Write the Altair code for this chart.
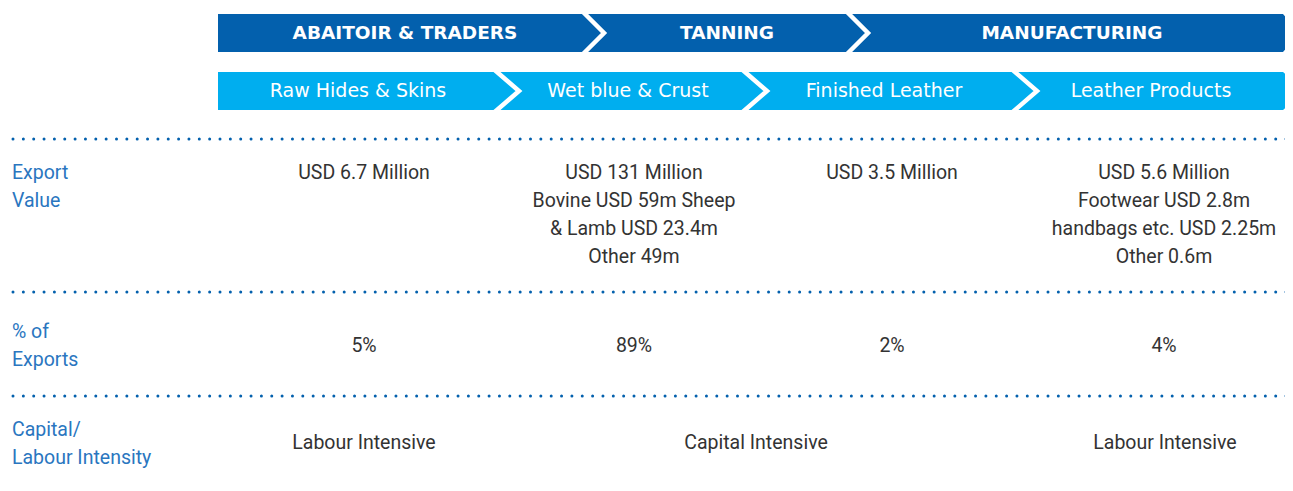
import altair as alt
import pandas as pd

# ---------------- data ----------------
stages = ["ABAITOIR & TRADERS", "TANNING", "MANUFACTURING"]
products = ["Raw Hides & Skins", "Wet blue & Crust", "Finished Leather", "Leather Products"]
row_labels = [["Export", "Value"], ["% of", "Exports"], ["Capital/", "Labour Intensity"]]
export_values = [
    ["USD 6.7 Million"],
    ["USD 131 Million", "Bovine USD 59m Sheep", "& Lamb USD 23.4m", "Other 49m"],
    ["USD 3.5 Million"],
    ["USD 5.6 Million", "Footwear USD 2.8m", "handbags etc. USD 2.25m", "Other 0.6m"],
]
export_shares = ["5%", "89%", "2%", "4%"]
intensity = ["Labour Intensive", "Capital Intensive", "Labour Intensive"]

# ---------------- layout (pixels of the picture) ----------------
W, H = 1277, 475
bar_left, bar_right = 218, 1290
stage_band = (14, 52)
product_band = (72, 110)
stage_breaks = [585, 849]
product_breaks = [497, 745, 1015]
stage_depth, product_depth = 19, 22
stage_text_x = [405, 727, 1072]
product_text_x = [358, 628, 884, 1151]
col_x = [364, 634, 892, 1164]
intensity_x = [364, 756, 1165]
divider_y = [139, 292, 396]
dots_from, dots_to = 13, 1290
label_x = 12
line_h = 28
export_y0, share_y, intensity_y = 173, 346, 443
label_y0 = [173, 332, 430]

DARK = "#0360AD"
LIGHT = "#00AEEF"
LABEL = "#2A76BF"
TEXT = "#333333"
COND = "Roboto, Liberation Sans, sans-serif"
GEO = "DejaVu Sans, sans-serif"

X = alt.Scale(domain=[8, 8 + W], nice=False, zero=False)
Y = alt.Scale(domain=[8, 8 + H], nice=False, zero=False, reverse=True)

def xe(f="x"):
    return alt.X(f"{f}:Q", scale=X, axis=None)

def ye(f="y"):
    return alt.Y(f"{f}:Q", scale=Y, axis=None)

# bands
bands = pd.DataFrame([
    {"x": bar_left, "x2": bar_right + 20, "y": stage_band[0], "y2": stage_band[1], "c": DARK},
    {"x": bar_left, "x2": bar_right + 20, "y": product_band[0], "y2": product_band[1], "c": LIGHT},
])
band_layer = alt.Chart(bands).mark_rect().encode(
    x=xe(), x2="x2:Q", y=ye(), y2="y2:Q", color=alt.Color("c:N", scale=None))

# chevron separators (white strokes)
rows = []
cid = 0
for breaks, (t, b), d in [(stage_breaks, stage_band, stage_depth), (product_breaks, product_band, product_depth)]:
    half = (b - t) / 2
    ext = 4
    for x0 in breaks:
        dx = d * ext / half
        rows += [
            {"id": cid, "o": 0, "x": x0 - dx, "y": t - ext},
            {"id": cid, "o": 1, "x": x0 + d, "y": t + half},
            {"id": cid, "o": 2, "x": x0 - dx, "y": b + ext},
        ]
        cid += 1
sep = pd.DataFrame(rows)
sep_layer = alt.Chart(sep).mark_line(color="white", strokeWidth=4.5, strokeJoin="miter").encode(
    x=xe(), y=ye(), detail="id:N", order="o:Q")

# right-end arrow cut
cuts = []
for (t, b), d, k in [(stage_band, stage_depth, 0), (product_band, product_depth, 1)]:
    half = (b - t) / 2
    x0 = bar_right - 8
    cuts += [
        {"id": f"u{k}", "x": x0, "y": t - 1, "y2": t - 1},
        {"id": f"u{k}", "x": x0 + d, "y": t - 1, "y2": t + half},
        {"id": f"l{k}", "x": x0, "y": b + 1, "y2": b + 1},
        {"id": f"l{k}", "x": x0 + d, "y": t + half, "y2": b + 1},
    ]
cut_layer = alt.Chart(pd.DataFrame(cuts)).mark_area(color="white", opacity=1).encode(
    x=xe(), y=ye(), y2="y2:Q", detail="id:N")

# band texts
st = pd.DataFrame({"t": stages, "x": stage_text_x, "y": [(stage_band[0] + stage_band[1]) / 2] * 3})
st_layer = alt.Chart(st).mark_text(font=GEO, fontSize=18.5, fontWeight="bold", color="white",
                                   align="center", baseline="middle").encode(x=xe(), y=ye(), text="t:N")
pr = pd.DataFrame({"t": products, "x": product_text_x, "y": [(product_band[0] + product_band[1]) / 2] * 4})
pr_layer = alt.Chart(pr).mark_text(font=GEO, fontSize=19, fontWeight="normal", color="white",
                                   align="center", baseline="middle").encode(x=xe(), y=ye(), text="t:N")

# dotted dividers
dv = pd.DataFrame({"x": [dots_from] * 3, "x2": [dots_to] * 3, "y": divider_y})
dv_layer = alt.Chart(dv).mark_rule(color=DARK, strokeWidth=3, strokeDash=[0, 10.35], strokeCap="round").encode(
    x=xe(), x2="x2:Q", y=ye())

# row labels
lab = []
for lines, y0 in zip(row_labels, label_y0):
    for i, s in enumerate(lines):
        lab.append({"t": s, "x": label_x, "y": y0 + i * line_h})
lab_layer = alt.Chart(pd.DataFrame(lab)).mark_text(font=COND, fontSize=19.5, color=LABEL,
                                                   align="left", baseline="middle").encode(x=xe(), y=ye(), text="t:N")

# values
vals = []
for lines, cx in zip(export_values, col_x):
    for i, s in enumerate(lines):
        vals.append({"t": s, "x": cx, "y": export_y0 + i * line_h})
for s, cx in zip(export_shares, col_x):
    vals.append({"t": s, "x": cx, "y": share_y})
for s, cx in zip(intensity, intensity_x):
    vals.append({"t": s, "x": cx, "y": intensity_y})
val_layer = alt.Chart(pd.DataFrame(vals)).mark_text(font=COND, fontSize=19.5, color=TEXT,
                                                    align="center", baseline="middle").encode(x=xe(), y=ye(), text="t:N")

chart = alt.layer(band_layer, sep_layer, cut_layer, st_layer, pr_layer, dv_layer, lab_layer, val_layer).properties(
    width=W, height=H, padding=0, autosize=alt.AutoSizeParams(type="none")
).configure_view(stroke=None)

chart.save("out.html", embed_options={"renderer": "svg", "actions": False})
